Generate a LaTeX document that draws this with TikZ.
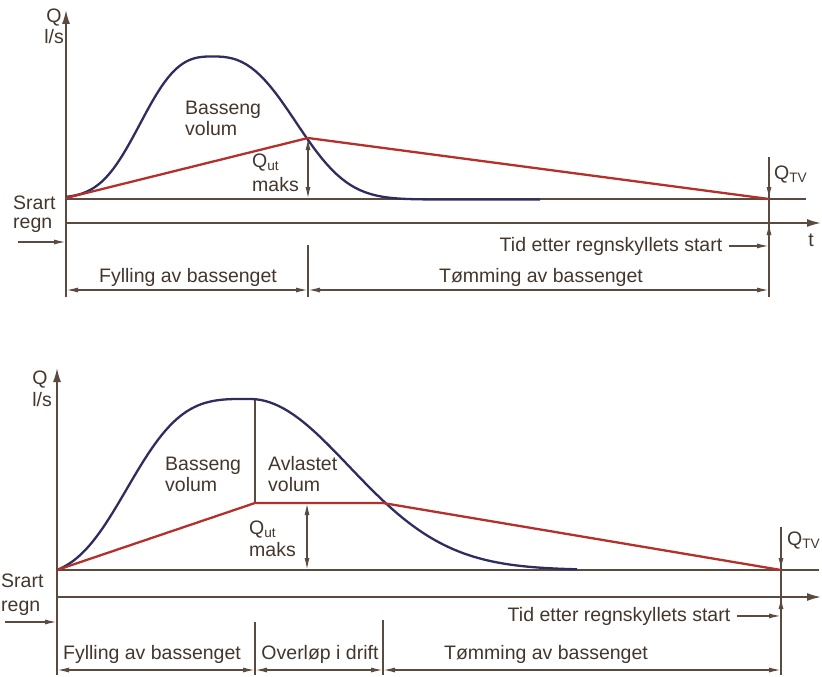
\documentclass[tikz,border=0pt]{standalone}
\usepackage{fontspec}
\setmainfont{Liberation Sans}
\usetikzlibrary{arrows.meta,positioning}
\definecolor{inkbrown}{HTML}{44362D}
\definecolor{linebrown}{HTML}{5A4A40}
\definecolor{curveblue}{HTML}{2F2C5E}
\definecolor{curvered}{HTML}{B3302B}

\begin{document}
\begin{tikzpicture}[
  x=1pt, y=-1pt,
  >={Latex[length=12pt,width=5pt]},
  every node/.style={font=\fontsize{19.5}{22}\selectfont, text=inkbrown, inner sep=0pt},
  axis/.style={draw=linebrown, line width=1.7pt, -{Latex[length=14pt,width=8pt]}},
  guide/.style={draw=linebrown, line width=1.4pt},
  dim/.style={guide, <->},
  inflow/.style={draw=curveblue, line width=2.3pt, line join=round},
  outflow/.style={draw=curvered, line width=2.3pt, line join=round},
  lbl/.style={anchor=base west},
  mid/.style={anchor=base}]

\useasboundingbox (0,0) rectangle (822,677);

% ===== Upper diagram =====
\coordinate (o1) at (66,198);   % start of rain
\coordinate (p1) at (308,138);  % Q_ut maks reached
\coordinate (e1) at (769,199);  % back to Q_TV

% --- axes and levels ---
\draw[axis] (66,297) -- (66,10);
\draw[axis] (66,223) -- (821,223);
\draw[guide] (66,199) -- (806,199);
\draw[guide] (769,157) -- (769,297);
\draw[guide] (308,245) -- (308,297);

% --- dimension arrows ---
\draw[dim] (p1) -- (p1 |- e1);
\draw[guide,->] (769,176) -- (e1);
\draw[guide,->] (769,246) -- (769,223);
\foreach \a/\b in {66/308, 308/769}
  \draw[dim] (\a,290) -- (\b,290);

% --- inflow and outflow ---
\draw[inflow]
  plot[domain=66:212.5, samples=50] (\x, {198-141.5*exp(-(pow((213-\x)/85,2.86)))})
  -- plot[domain=213.5:540, samples=70] (\x, {199.5-143*exp(-(pow((\x-213)/100,2.6)))});
\draw[outflow] (o1) -- (p1) -- (e1);

% --- labels ---
\node[mid] (q1) at (54,23) {Q};
\node[mid] (ls1) at (54,44) {l/s};
\node[lbl] (bas1) at (185,114) {Basseng};
\node[lbl] (vol1) at (185,135) {volum};
\node[lbl] (qut1) at (252,167) {Q\textsubscript{ut}};
\node[lbl] (maks1) at (252,191) {maks};
\node[lbl] (qtv1) at (774,179) {Q\textsubscript{TV}};
\node[lbl] (srart1) at (13,209) {Srart};
\node[lbl] (regn1) at (13,228) {regn};
\node[mid] (t1) at (811,246) {t};
\node[mid] (tid1) at (611,251) {Tid etter regnskyllets start};
\node[mid] (fyll1) at (188,282) {Fylling av bassenget};
\node[mid] (tom1) at (541,282) {Tømming av bassenget};
\draw[guide,->] ([xshift=7pt]tid1.east) -- (tid1.east -| e1);
\coordinate (s1) at (18,242);
\draw[guide,->] (s1) -- (s1 -| o1);

% ===== Lower diagram =====
\coordinate (o2) at (57,570);   % start of rain
\coordinate (k2) at (255,503);  % Q_ut maks reached
\coordinate (c2) at (383,503);  % overflow stops
\coordinate (e2) at (781,570);  % back to Q_TV

% --- axes and levels ---
\draw[axis] (57,675) -- (57,368);
\draw[axis] (57,597) -- (821,597);
\draw[guide] (57,570) -- (819,570);
\draw[guide] (781,527) -- (781,675);
\draw[guide] (255,399) -- (k2);
\draw[guide] (255,622) -- (255,675);
\draw[guide] (383,620) -- (383,675);

% --- dimension arrows ---
\draw[dim] (307,503) -- (307,570);
\draw[guide,->] (781,548) -- (e2);
\draw[guide,->] (781,619) -- (781,597);
\foreach \a/\b in {57/255, 255/383, 383/781}
  \draw[dim] (\a,670) -- (\b,670);

% --- inflow and outflow ---
\draw[inflow]
  plot[domain=57:249.5, samples=60] (\x, {570-178*(exp(-(pow((250-\x)/136.6,3.4)))-0.039)})
  -- plot[domain=250.5:577, samples=70] (\x, {570-171*exp(-(pow((\x-250)/140,2)))});
\draw[outflow] (o2) -- (k2) -- (c2) -- (e2);

% --- labels ---
\node[mid] (q2) at (40,384) {Q};
\node[mid] (ls2) at (42,406) {l/s};
\node[lbl] (bas2) at (165,470) {Basseng};
\node[lbl] (vol2) at (165,491) {volum};
\node[lbl] (avl2) at (268,470) {Avlastet};
\node[lbl] (avv2) at (268,491) {volum};
\node[lbl] (qut2) at (249,534) {Q\textsubscript{ut}};
\node[lbl] (maks2) at (249,556) {maks};
\node[lbl] (qtv2) at (787,545) {Q\textsubscript{TV}};
\node[lbl] (srart2) at (1,587) {Srart};
\node[lbl] (regn2) at (1,611) {regn};
\node[mid] (tid2) at (619,621) {Tid etter regnskyllets start};
\node[mid] (fyll2) at (152,659) {Fylling av bassenget};
\node[mid] (over2) at (320,659) {Overløp i drift};
\node[mid] (tom2) at (546,659) {Tømming av bassenget};
\draw[guide,->] ([xshift=7pt]tid2.east) -- (tid2.east -| e2);
\coordinate (s2) at (5,622);
\draw[guide,->] (s2) -- (s2 -| o2);

\end{tikzpicture}
\end{document}
